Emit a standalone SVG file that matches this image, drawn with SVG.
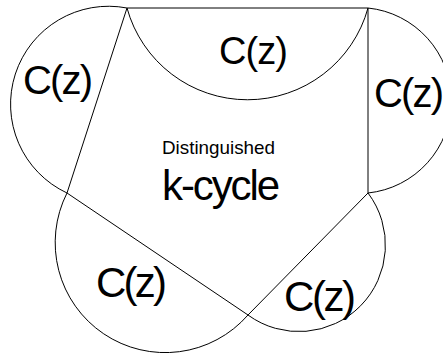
<svg xmlns="http://www.w3.org/2000/svg" width="443" height="360" viewBox="0 0 443 360">
<style>
.ln{fill:none;stroke:#000;stroke-width:1}
.t{font-family:"Liberation Sans",Arial,sans-serif;fill:#000}
</style>
<rect width="443" height="360" fill="#fff"/>
<g id="lobe-top">
<path class="ln" d="M127,8 A125,125 0 0 0 368,8"/>
<text class="t" x="219" y="64" font-size="38" textLength="69" lengthAdjust="spacing">C(z)</text>
</g>
<g id="lobe-right">
<path class="ln" d="M368,8 A93,93 0 0 1 368,193"/>
<text class="t" x="374" y="107" font-size="40" textLength="70" lengthAdjust="spacing">C(z)</text>
</g>
<g id="lobe-bottom-right">
<path class="ln" d="M368,193 A86.5,86.5 0 0 1 248,315"/>
<text class="t" x="284" y="311" font-size="42" textLength="72" lengthAdjust="spacing">C(z)</text>
</g>
<g id="lobe-bottom-left">
<path class="ln" d="M248,315 A110,110 0 0 1 67,193"/>
<text class="t" x="96" y="297" font-size="42" textLength="71" lengthAdjust="spacing">C(z)</text>
</g>
<g id="lobe-left">
<path class="ln" d="M67,193 A98,98 0 0 1 127,8"/>
<text class="t" x="23" y="94" font-size="40" textLength="70" lengthAdjust="spacing">C(z)</text>
</g>
<g id="cycle">
<text class="t" x="162" y="154" font-size="18.5" textLength="113" lengthAdjust="spacingAndGlyphs">Distinguished</text>
<text class="t" x="162" y="200" font-size="42" textLength="118" lengthAdjust="spacing">k-cycle</text>
</g>
<g id="connectors">
<path class="ln" d="M127,8 L368,8 L368,193 L248,315 L67,193 Z"/>
</g>
</svg>
